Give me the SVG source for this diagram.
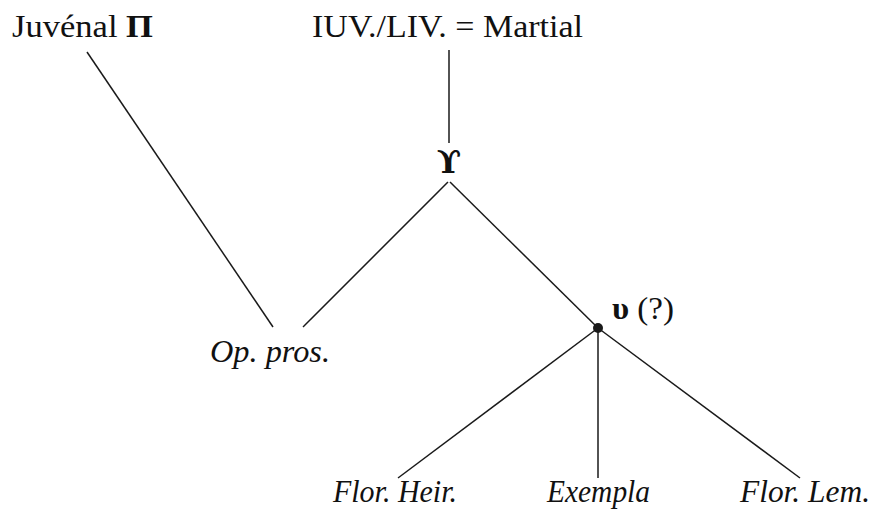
<svg xmlns="http://www.w3.org/2000/svg" width="875" height="516" viewBox="0 0 875 516">
<style>
.t{font-family:"Liberation Serif","DejaVu Serif",serif;font-size:32px;fill:#111}
.i{font-style:italic}
.b{font-weight:bold}
.e{stroke:#1a1a1a;stroke-width:1.5;fill:none}
</style>
<rect width="875" height="516" fill="#fff"/>
<g id="connectors">
<line class="e" x1="87" y1="52" x2="273" y2="327"/>
<line class="e" x1="449" y1="50" x2="449" y2="143"/>
<line class="e" x1="448" y1="182" x2="303" y2="327"/>
<line class="e" x1="450" y1="182" x2="598" y2="328"/>
<line class="e" x1="598" y1="328" x2="398" y2="478"/>
<line class="e" x1="598" y1="328" x2="598" y2="478"/>
<line class="e" x1="598" y1="328" x2="800" y2="478"/>
</g>
<g id="juvenal"><text class="t" x="12" y="37" textLength="141" lengthAdjust="spacingAndGlyphs">Juvénal <tspan class="b">Π</tspan></text></g>
<g id="martial"><text class="t" x="312" y="37" textLength="271" lengthAdjust="spacingAndGlyphs">IUV./LIV. = Martial</text></g>
<g id="upsilon"><text class="t b" x="449" y="173" text-anchor="middle" font-size="28" style="font-family:'DejaVu Serif','Liberation Serif',serif">ϒ</text></g>
<g id="oppros"><text class="t i" x="210" y="362" textLength="120" lengthAdjust="spacingAndGlyphs">Op. pros.</text></g>
<g id="u"><circle cx="598" cy="328" r="5" fill="#1a1a1a"/><text class="t" x="612" y="319" textLength="62" lengthAdjust="spacingAndGlyphs"><tspan class="b">υ</tspan> (?)</text></g>
<g id="florheir"><text class="t i" x="333" y="502" textLength="124" lengthAdjust="spacingAndGlyphs">Flor. Heir.</text></g>
<g id="exempla"><text class="t i" x="547" y="502" textLength="103" lengthAdjust="spacingAndGlyphs">Exempla</text></g>
<g id="florlem"><text class="t i" x="740" y="502" textLength="130" lengthAdjust="spacingAndGlyphs">Flor. Lem.</text></g>
</svg>
